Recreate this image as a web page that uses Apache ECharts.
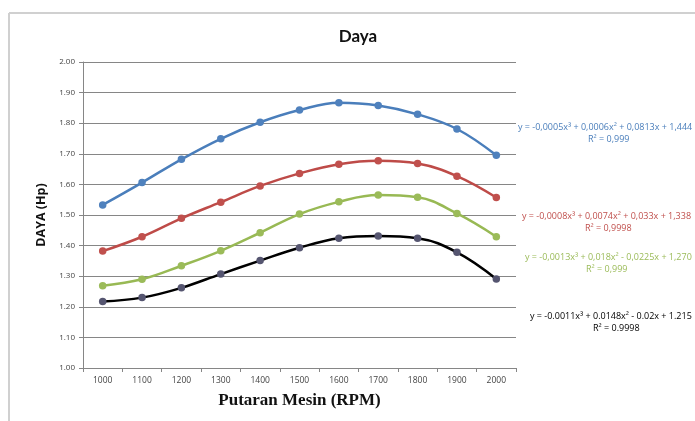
<!DOCTYPE html>
<html>
<head>
<meta charset="utf-8">
<script src="https://cdn.jsdelivr.net/npm/echarts@6/dist/echarts.min.js"></script>
<style>html,body{margin:0;padding:0;background:#fff;}#chart{width:695px;height:421px;}</style>
</head>
<body>
<div id="chart"></div>
<script>
var categories = ['1000','1100','1200','1300','1400','1500','1600','1700','1800','1900','2000'];
var blueValues  = [1.533,1.606,1.682,1.749,1.803,1.843,1.867,1.858,1.829,1.781,1.695];
var redValues   = [1.382,1.429,1.489,1.542,1.595,1.636,1.666,1.677,1.668,1.627,1.557];
var greenValues = [1.269,1.290,1.334,1.383,1.442,1.503,1.543,1.565,1.558,1.505,1.429];
var blackValues = [1.217,1.230,1.262,1.307,1.351,1.393,1.424,1.431,1.424,1.378,1.291];
var yTicks = { min: 1.0, max: 2.0, interval: 0.1 };
var equations = [
  { eq: 'y = -0,0005x\u00B3 + 0,0006x\u00B2 + 0,0813x + 1,444', r2: 'R\u00B2 = 0,999' },
  { eq: 'y = -0,0008x\u00B3 + 0,0074x\u00B2 + 0,033x + 1,338', r2: 'R\u00B2 = 0,9998' },
  { eq: 'y = -0,0013x\u00B3 + 0,018x\u00B2 - 0,0225x + 1,270', r2: 'R\u00B2 = 0,999' },
  { eq: 'y = -0.0011x\u00B3 + 0.0148x\u00B2 - 0.02x + 1.215', r2: 'R\u00B2 = 0.9998' }
];

var chart = echarts.init(document.getElementById('chart'));
function mkSeries(name, data, lineColor, markerColor) {
  return {
    name: name, type: 'line', data: data, smooth: 0.4,
    symbol: 'circle', symbolSize: 7.5,
    lineStyle: { color: lineColor, width: 2.5 },
    itemStyle: { color: markerColor },
    emphasis: { disabled: true }
  };
}
var eqPos = [
  { x: 518, y: 129, cx: 608, cy: 141, color: '#4A7EBB' },
  { x: 522, y: 218, cx: 605, cy: 230, color: '#C0504D' },
  { x: 525, y: 259, cx: 606, cy: 271, color: '#9BBB59' },
  { x: 530, y: 318, cx: 613, cy: 330, color: '#000000' }
];
var graphics = [
  { type: 'line', shape: { x1: 9, y1: 13, x2: 695, y2: 13 }, style: { stroke: '#d0d0d0', lineWidth: 2 } },
  { type: 'line', shape: { x1: 9, y1: 13, x2: 9, y2: 421 }, style: { stroke: '#d0d0d0', lineWidth: 2 } }
];
equations.forEach(function (e, i) {
  var p = eqPos[i];
  graphics.push({ type: 'text', left: p.x, top: p.y - 6, style: { text: e.eq, fill: p.color, font: '9px "Open Sans"' } });
  graphics.push({ type: 'text', left: p.cx - 20, top: p.cy - 6, style: { text: e.r2, fill: p.color, font: '9px "Open Sans"' } });
});

chart.setOption({
  animation: false,
  backgroundColor: '#fff',
  title: {
    text: 'Daya', left: 353, top: 23, textAlign: 'center',
    textStyle: { fontFamily: 'Lato', fontWeight: 'bold', fontSize: 17, color: '#111' }
  },
  grid: { left: 83, right: 179, top: 62, bottom: 53 },
  xAxis: {
    type: 'category', data: categories, boundaryGap: true,
    name: 'Putaran Mesin (RPM)', nameLocation: 'middle', nameGap: 24,
    nameTextStyle: { fontFamily: '"Liberation Serif"', fontWeight: 'bold', fontSize: 17, color: '#111' },
    axisLine: { lineStyle: { color: '#868686', width: 1 } },
    axisTick: { show: true, alignWithLabel: false, length: 4, lineStyle: { color: '#868686' } },
    axisLabel: { fontFamily: '"Open Sans"', fontSize: 8.5, color: '#444', margin: 8 },
    splitLine: { show: false }
  },
  yAxis: {
    type: 'value', min: yTicks.min, max: yTicks.max, interval: yTicks.interval,
    name: 'DAYA (Hp)', nameLocation: 'middle', nameGap: 30,
    nameTextStyle: { fontFamily: '"Open Sans"', fontWeight: 'bold', fontSize: 12.5, color: '#111' },
    axisLine: { show: true, lineStyle: { color: '#868686', width: 1 } },
    axisTick: { show: true, length: 4, lineStyle: { color: '#868686' } },
    axisLabel: { fontFamily: '"Open Sans"', fontSize: 8, color: '#444', margin: 8,
      formatter: function (v) { return v.toFixed(2); } },
    splitLine: { show: true, lineStyle: { color: '#868686', width: 1 } }
  },
  series: [
    mkSeries('blue', blueValues, '#4A7EBB', '#4F81BD'),
    mkSeries('red', redValues, '#BE4B48', '#C0504D'),
    mkSeries('green', greenValues, '#98B954', '#9BBB59'),
    mkSeries('black', blackValues, '#000000', '#555570')
  ],
  graphic: graphics
});
</script>
</body>
</html>
